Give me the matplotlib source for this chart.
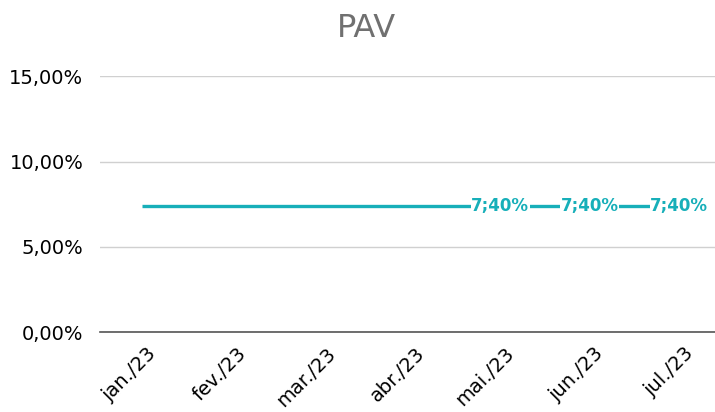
import matplotlib
matplotlib.use("Agg")
import matplotlib.pyplot as plt
import matplotlib.transforms as mtransforms
from matplotlib.ticker import FuncFormatter

months = ["jan./23", "fev./23", "mar./23", "abr./23", "mai./23", "jun./23", "jul./23"]
pav = [7.40, 7.40, 7.40, 7.40, 7.40, 7.40, 7.40]
labelled = [4, 5, 6]
yticks = [0, 5, 10, 15]

TEAL = "#17AFB9"

fig = plt.figure(figsize=(7.15, 4.12), dpi=100)
ax = fig.add_axes([0.14, 0.194, 0.86, 0.621])

x = list(range(len(months)))
ax.plot(x, pav, color=TEAL, lw=2.4, solid_capstyle="butt", zorder=3)
for i in labelled:
    ax.text(i, pav[i], f"{pav[i]:.2f}%".replace(".", ";"), color=TEAL, fontsize=12,
            fontweight="bold", ha="center", va="center", zorder=4,
            bbox=dict(boxstyle="square,pad=0.02", fc="white", ec="none"))

ax.set_xlim(-0.47, 6.40)
ax.set_ylim(0, 15)
ax.set_yticks(yticks)
ax.yaxis.set_major_formatter(FuncFormatter(lambda v, p: f"{v:.2f}%".replace(".", ",")))
ax.set_xticks(x)
ax.set_xticklabels(months, rotation=45, ha="right", rotation_mode="anchor")
ax.tick_params(axis="both", length=0, labelsize=14, colors="black")
ax.tick_params(axis="x", pad=7)
ax.tick_params(axis="y", pad=12)
shift = mtransforms.ScaledTranslation(0.045, -0.02, fig.dpi_scale_trans)
for lab in ax.get_xticklabels():
    lab.set_transform(lab.get_transform() + shift)
ax.grid(axis="y", color="#D0D0D0", lw=1)
ax.set_axisbelow(True)
for s in ["top", "right", "left"]:
    ax.spines[s].set_visible(False)
ax.spines["bottom"].set_color("#555555")
ax.spines["bottom"].set_linewidth(1.2)
ax.spines["bottom"].set_zorder(2)

fig.text(0.512, 0.932, "PAV", ha="center", va="center", fontsize=23, color="#707070")

fig.savefig("out.png", dpi=100)
